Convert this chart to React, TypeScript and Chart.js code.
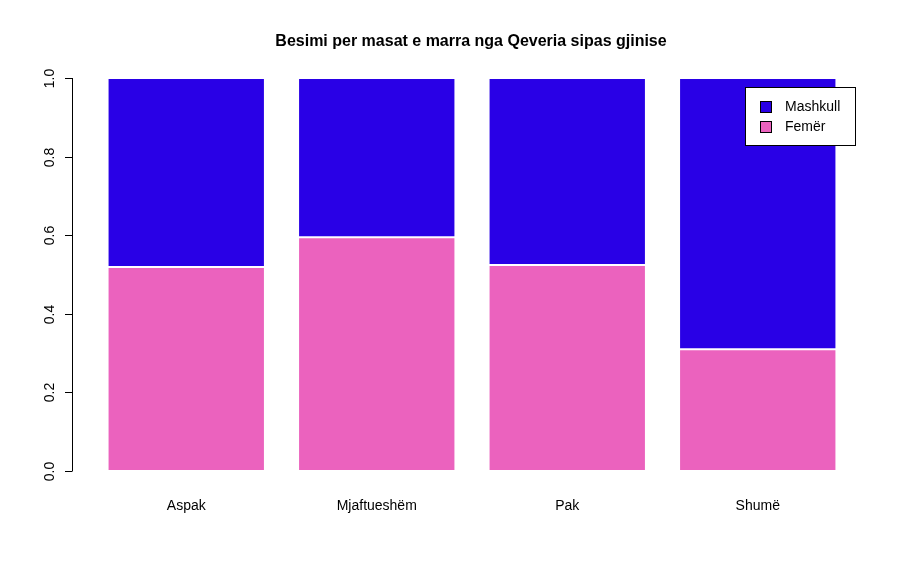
import { useEffect, useRef } from "react"
import { Chart, registerables, type Plugin } from "chart.js"

Chart.register(...registerables)

const categories = ["Aspak", "Mjaftueshëm", "Pak", "Shumë"]
const femer = [0.519, 0.595, 0.524, 0.31]
const mashkull = femer.map((v) => 1 - v)
const yTicks = [0, 0.2, 0.4, 0.6, 0.8, 1.0]
const title = "Besimi per masat e marra nga Qeveria sipas gjinise"

const blue = "#2900E6"
const pink = "#EB62BE"
const FONT = "'Liberation Sans', Arial, sans-serif"

const decor: Plugin = {
  id: "decor",
  afterDraw(chart) {
    const ctx = chart.ctx
    const y = chart.scales.y
    const x = chart.scales.x
    ctx.save()
    ctx.fillStyle = "#000"
    ctx.strokeStyle = "#000"
    ctx.lineWidth = 1
    ctx.font = `bold 16px ${FONT}`
    ctx.textAlign = "center"
    ctx.textBaseline = "middle"
    ctx.fillText(title, 471, 42)

    // y axis
    ctx.beginPath()
    ctx.moveTo(72.5, y.getPixelForValue(0))
    ctx.lineTo(72.5, y.getPixelForValue(1))
    ctx.stroke()
    ctx.font = `14px ${FONT}`
    yTicks.forEach((t) => {
      const py = Math.round(y.getPixelForValue(t)) + 0.5
      ctx.beginPath()
      ctx.moveTo(72.5, py)
      ctx.lineTo(65, py)
      ctx.stroke()
      ctx.save()
      ctx.translate(50, py)
      ctx.rotate(-Math.PI / 2)
      ctx.fillText(t.toFixed(1), 0, 0)
      ctx.restore()
    })

    // x labels
    categories.forEach((c, i) => {
      ctx.fillText(c, x.getPixelForValue(i), 506)
    })

    // legend
    ctx.fillStyle = "#fff"
    ctx.fillRect(745.5, 87.5, 110, 58)
    ctx.strokeRect(745.5, 87.5, 110, 58)
    const items: [string, string][] = [["Mashkull", blue], ["Femër", pink]]
    ctx.textAlign = "left"
    items.forEach(([lab, col], i) => {
      const cy = 107 + i * 20
      ctx.fillStyle = col
      ctx.fillRect(760.5, cy - 5.5, 11, 11)
      ctx.strokeRect(760.5, cy - 5.5, 11, 11)
      ctx.fillStyle = "#000"
      ctx.fillText(lab, 785, cy)
    })
    ctx.restore()
  },
}

export default function App() {
  const ref = useRef<HTMLCanvasElement>(null)
  useEffect(() => {
    document.body.style.margin = "0"
    if (!ref.current) return
    const chart = new Chart(ref.current, {
      type: "bar",
      data: {
        labels: categories,
        datasets: [
          { label: "Femër", data: femer, backgroundColor: pink, borderColor: "#fff", borderWidth: 1, borderSkipped: false },
          { label: "Mashkull", data: mashkull, backgroundColor: blue, borderColor: "#fff", borderWidth: 1, borderSkipped: false },
        ],
      },
      options: {
        animation: false,
        responsive: false,
        events: [],
        layout: { padding: { left: 91, right: 53, top: 78, bottom: 103 } },
        datasets: { bar: { categoryPercentage: 0.826, barPercentage: 1 } },
        plugins: { legend: { display: false }, title: { display: false }, tooltip: { enabled: false } },
        scales: {
          x: { stacked: true, display: false, grid: { display: false } },
          y: { stacked: true, display: false, min: 0, max: 1 },
        },
      },
      plugins: [decor],
    })
    return () => chart.destroy()
  }, [])
  return <canvas ref={ref} width={906} height={574} style={{ display: "block", background: "#fff" }} />
}
